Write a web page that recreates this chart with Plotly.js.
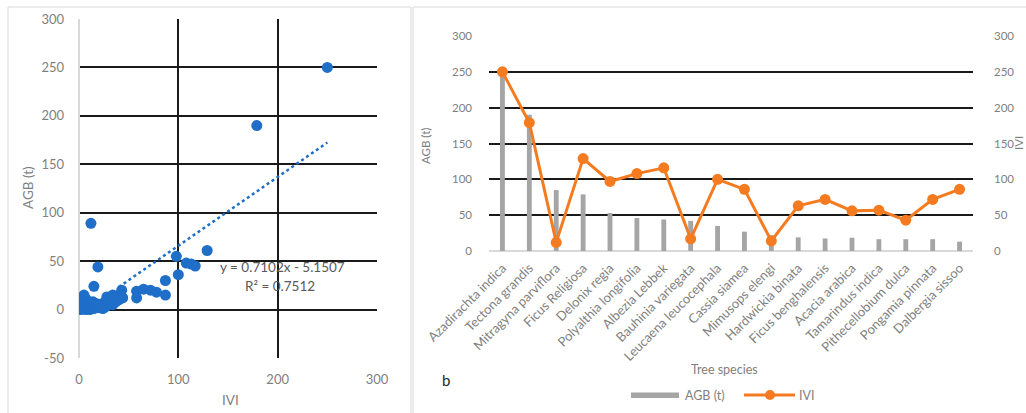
<!DOCTYPE html>
<html><head><meta charset="utf-8">
<script src="https://cdn.plot.ly/plotly-3.0.1.min.js"></script>
<style>html,body{margin:0;padding:0;background:#fff;}#chart{width:1026px;height:413px;}</style>
</head><body><div id="chart"></div>
<script>
// ---- Panel a: scatter of AGB (t) vs IVI ----
const scatterIVI = [250,179,12,129,98,108,113,117,100,19,15,87,87,58,65,72,58,78,43,
  0.5,1,1.5,2,2,3,3,4,4,5,5,6,6,7,7,8,9,9,10,11,12,13,14,15,17,18,20,22,24,25,27,28,30,32,34,35,37,38,40,42,44,28,34];
const scatterAGB = [250,190,89,61,55,48,47,45,36,44,24,30,15,19,21,20,12,18,20,
  1,4,2,6,0,3,9,1,12,5,15,2,8,0,11,4,1,7,3,0,5,2,8,1,4,6,2,5,1,7,3,9,6,10,5,12,8,14,10,15,12,13,15];
const trendSlope = 0.7102;
const trendIntercept = -5.1507;
const trendXRange = [40, 250];
const trendLabel = "y = 0.7102x - 5.1507";
const r2Label = "R\u00b2 = 0.7512";
const aYTicks = [-50,0,50,100,150,200,250,300];
const aXTicks = [0,100,200,300];

// ---- Panel b: AGB bars and IVI line by tree species ----
const species = ["Azadirachta indica","Tectona grandis","Mitragyna parviflora","Ficus Religiosa","Delonix regia",
  "Polyalthia longifolia","Albezia Lebbek","Bauhinia variegata","Leucaena leucocephala","Cassia siamea",
  "Mimusops elengi","Hardwickia binata","Ficus benghalensis","Acacia arabica","Tamarindus indica",
  "Pithecellobium dulca","Pongamia pinnata","Dalbergia sissoo"];
const agb = [248,190,85,79,53,46,44,42,35,27,22,19,17.5,18.5,16.5,16.5,16.5,13];
const ivi = [250,179,12,129,97,108,116,17,100,86,14,63,72,56,57,43,72,86];
const bYTicks = [0,50,100,150,200,250,300];

const W = 1026, H = 413;
const PX = v => v / W, PY = v => 1 - v / H;
const grey = '#7f7f7f', blue = '#1f6ec8', orange = '#f47b20', barGrey = '#a5a5a5', black = '#1a1a1a';
const FONT = 'Lato, "Liberation Sans", Arial, sans-serif';

const trendX = trendXRange.slice();
const trendY = trendX.map(x => trendSlope * x + trendIntercept);

const traces = [
  {type:'scatter', mode:'markers', x:scatterIVI, y:scatterAGB, xaxis:'x', yaxis:'y',
   marker:{color:blue, size:11}, showlegend:false, hoverinfo:'x+y'},
  {type:'scatter', mode:'lines', x:trendX, y:trendY, xaxis:'x', yaxis:'y',
   line:{color:blue, width:2.5, dash:'dot'}, showlegend:false},
  {type:'bar', name:'AGB (t)', x:species, y:agb, xaxis:'x2', yaxis:'y2',
   marker:{color:barGrey}, width:0.18, showlegend:false},
  {type:'scatter', mode:'lines+markers', name:'IVI', x:species, y:ivi, xaxis:'x2', yaxis:'y3',
   line:{color:orange, width:3}, marker:{color:orange, size:11}, showlegend:false}
];

const tickFontA = {family:FONT, size:13, color:grey};
const tickFontB = {family:FONT, size:11.5, color:grey};

const layout = {
  width:W, height:H, margin:{l:0,r:0,t:0,b:0}, paper_bgcolor:'#fff', plot_bgcolor:'#fff',
  font:{family:FONT, color:grey}, showlegend:false,
  xaxis:{domain:[PX(79),PX(377)], anchor:'y', range:[0,300], tickvals:aXTicks, ticktext:aXTicks.map(String),
    showgrid:true, gridcolor:black, gridwidth:2, zeroline:true, zerolinecolor:'#d9d9d9', zerolinewidth:1.5,
    showline:false, ticks:'', tickfont:tickFontA, ticklabelstandoff:12, fixedrange:true},
  yaxis:{domain:[PY(358),PY(19)], anchor:'x', range:[-50,300], tickvals:aYTicks, ticktext:aYTicks.map(String),
    showgrid:true, gridcolor:black, gridwidth:2, zeroline:false, showline:false, ticks:'',
    tickfont:tickFontA, ticklabelstandoff:14, fixedrange:true},
  xaxis2:{domain:[PX(489),PX(973)], anchor:'y2', type:'category', range:[-0.5,17.5], tickangle:-45,
    tickfont:{family:FONT, size:13, color:grey},
    showgrid:false, zeroline:false, showline:false, ticks:'', ticklabelstandoff:6, fixedrange:true},
  yaxis2:{domain:[PY(251),PY(36)], anchor:'x2', range:[0,300], tickvals:bYTicks, ticktext:bYTicks.map(String),
    showgrid:true, gridcolor:black, gridwidth:2, zeroline:true, zerolinecolor:'#d9d9d9', zerolinewidth:1.5,
    showline:false, ticks:'', tickfont:tickFontB, ticklabelstandoff:16, fixedrange:true},
  yaxis3:{overlaying:'y2', anchor:'x2', side:'right', range:[0,300], tickvals:bYTicks, ticktext:bYTicks.map(String),
    showgrid:false, zeroline:false, showline:false, ticks:'', tickfont:tickFontB, ticklabelstandoff:20, fixedrange:true},
  shapes:[
    {type:'rect', xref:'paper', yref:'paper', x0:PX(8), x1:PX(411), y0:-0.05, y1:PY(7), line:{color:'#d9d9d9', width:1}},
    {type:'rect', xref:'paper', yref:'paper', x0:PX(413), x1:1.05, y0:-0.05, y1:PY(7), line:{color:'#d9d9d9', width:1}},
    {type:'rect', xref:'paper', yref:'paper', x0:PX(631), x1:PX(679), y0:PY(398), y1:PY(392.5), fillcolor:barGrey, line:{width:0}},
    {type:'line', xref:'paper', yref:'paper', x0:PX(744), x1:PX(795), y0:PY(395), y1:PY(395), line:{color:orange, width:3}},
    {type:'circle', xref:'paper', yref:'paper', x0:PX(765), x1:PX(775), y0:PY(400), y1:PY(390), fillcolor:orange, line:{width:0}}
  ],
  annotations:[
    {xref:'paper', yref:'paper', x:PX(282), y:PY(267), text:trendLabel, showarrow:false, xanchor:'center', yanchor:'middle',
     font:{family:FONT, size:13.5, color:'#595959'}},
    {xref:'paper', yref:'paper', x:PX(280), y:PY(286), text:r2Label, showarrow:false, xanchor:'center', yanchor:'middle',
     font:{family:FONT, size:13.5, color:'#595959'}},
    {xref:'paper', yref:'paper', x:PX(28), y:PY(188), text:'AGB (t)', textangle:-90, showarrow:false,
     xanchor:'center', yanchor:'middle', font:{family:FONT, size:13.5, color:grey}},
    {xref:'paper', yref:'paper', x:PX(230), y:PY(400), text:'IVI', showarrow:false,
     xanchor:'center', yanchor:'middle', font:{family:FONT, size:13.5, color:grey}},
    {xref:'paper', yref:'paper', x:PX(425), y:PY(146), text:'AGB (t)', textangle:-90, showarrow:false,
     xanchor:'center', yanchor:'middle', font:{family:FONT, size:11.5, color:grey}},
    {xref:'paper', yref:'paper', x:PX(1018), y:PY(143), text:'IVI', textangle:-90, showarrow:false,
     xanchor:'center', yanchor:'middle', font:{family:FONT, size:11.5, color:grey}},
    {xref:'paper', yref:'paper', x:PX(724), y:PY(369), text:'Tree species', showarrow:false,
     xanchor:'center', yanchor:'middle', font:{family:FONT, size:12.5, color:grey}},
    {xref:'paper', yref:'paper', x:PX(446), y:PY(380), text:'b', showarrow:false,
     xanchor:'center', yanchor:'middle', font:{family:FONT, size:15, color:'#262626'}},
    {xref:'paper', yref:'paper', x:PX(683), y:PY(395), text:'AGB (t)', showarrow:false,
     xanchor:'left', yanchor:'middle', font:{family:FONT, size:12.5, color:grey}},
    {xref:'paper', yref:'paper', x:PX(797), y:PY(395), text:'IVI', showarrow:false,
     xanchor:'left', yanchor:'middle', font:{family:FONT, size:12.5, color:grey}}
  ]
};

Plotly.newPlot('chart', traces, layout, {staticPlot:true, displayModeBar:false});
</script></body></html>
